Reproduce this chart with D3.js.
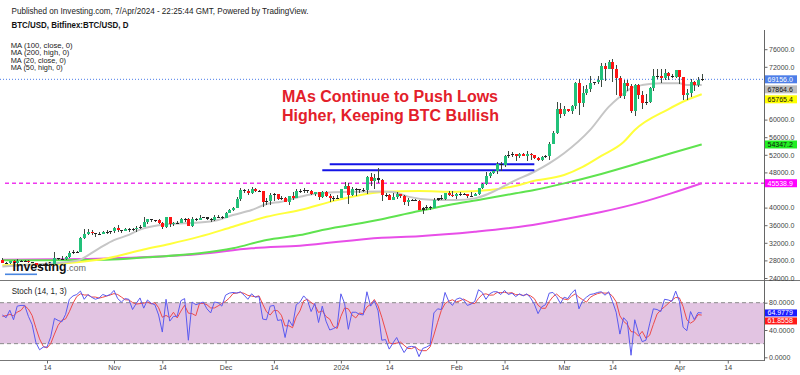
<!DOCTYPE html>
<html>
<head>
<meta charset="utf-8">
<script src="https://cdn.jsdelivr.net/npm/d3@7"></script>
<style>
  body { margin: 0; background: #fff; }
  svg { display: block; }
  text { font-family: "Liberation Sans", Arial, sans-serif; }
</style>
</head>
<body>
<svg id="chart" width="800" height="375"></svg>
<script>
const utc = s => new Date(s + "T00:00:00Z");

// daily candles, 2023-10-02 .. 2024-04-07
const firstDay = "2023-10-02";
const lastDay = "2024-04-07";

const opens = [
  27990,27500,27430,27790,27410,27930,27950,27970,27590,27390,26880,26760,26860,26860,27150,28520,28410,28330,28720,29680,29920,30000,33080,33900,34500,34150,33910,34090,34540,34500,
  34660,35440,34940,34730,35080,35050,35040,35430,35640,36700,37320,37140,37070,36500,35550,37880,36160,36600,36580,37390,37470,35810,37420,37290,37720,37800,37460,37240,37830,37860,
  37720,38690,39460,39970,41980,44080,43770,43290,44170,43720,43790,41240,41450,42890,43020,41940,42260,41360,42660,42270,43660,43860,43990,43720,43010,43580,42520,43440,42580,42070,42140,
  42280,44180,44950,42840,44150,44160,43970,43940,46970,46110,46650,46350,42800,42850,41740,42510,43140,42740,41270,41620,41670,41580,39560,39900,40070,39950,41820,42130,42040,43300,42940,
  42570,43080,43200,43010,42600,42700,43100,44350,45300,47150,47770,48300,49950,49700,51800,51920,52150,51650,52130,51780,52260,51850,51300,50750,51580,51730,54500,57050,62500,
  61200,62400,62050,63150,68300,63800,66100,66900,68300,68500,69000,72100,71500,73100,71400,69500,65300,68400,67600,61900,67900,65500,63800,64000,67200,70000,69900,69500,70700,69900,69600,
  71300,69650,65500,65950,68500,67850,68900
];
const highs = [
  28580,27670,27830,28120,28290,28000,28110,27990,27740,27480,26940,27100,26990,27290,30000,28600,28970,28900,30220,30300,30210,33300,35200,35100,34800,34240,34470,34750,34840,34720,
  35580,35980,34950,35260,35380,35280,35900,35980,37970,37520,37400,37240,37430,36770,37950,37930,36740,36850,37530,37750,37650,37850,37630,38420,37880,37830,37580,38400,38400,38150,
  38980,39700,40200,42420,44480,44300,44140,44700,44370,44040,43800,42100,43400,43430,43080,42700,42430,42740,43480,44300,44250,44400,44020,43940,43570,43600,43680,43800,43120,42600,42890,
  44200,45900,45500,44770,44350,44230,44490,47200,47900,47700,49000,46500,43250,43060,43350,43570,43190,42930,42150,41870,41860,41680,40140,40520,40310,42220,42200,42850,43310,43880,43740,
  43300,43450,43380,43120,43530,43400,44400,45600,48200,48170,48600,50300,50380,52000,52820,52570,52200,52400,52500,52970,52380,52000,51550,51700,51950,54900,57500,64000,63700,
  63100,62450,63250,68500,69200,67600,67900,69900,68600,70000,72800,72900,73650,73800,72400,70000,68900,68900,68100,68100,68200,66600,65900,67500,71500,71500,71600,71500,70900,70300,71300,
  71300,69650,66900,69300,68700,69600,70300
];
const lows = [
  27330,27170,27230,27360,27180,27850,27700,27300,27300,26560,26550,26700,26820,26810,27120,28100,28140,28170,28600,29480,29690,29920,32800,33700,33780,33400,33880,33950,34080,34070,
  34120,34370,34120,34580,34550,34760,34530,35120,35550,36360,36750,36770,36350,35100,35360,35700,35890,36200,36400,36780,35750,35650,36900,37250,37600,37150,36740,36900,37600,37500,
  37610,38660,39250,39970,41420,43350,42870,43100,43600,43600,40200,40700,40600,41500,41700,41700,41250,40530,41820,42200,43300,43400,43350,42800,42750,41680,42110,42320,41300,41520,41970,
  42200,44180,40750,42630,42600,43400,43600,43200,45000,44300,45600,41500,42450,41720,41700,42050,42200,40650,40280,41430,41460,39450,38530,39500,39520,39830,41400,41670,41810,42700,42300,
  41900,42580,42900,42250,42300,42600,42800,44330,45250,46840,47700,47700,48380,49300,51330,51600,50650,51200,51700,50650,50850,50950,50550,50580,51300,50900,54450,56700,60400,
  60800,61650,61300,62350,61000,62800,65600,66200,67900,68000,67300,68700,71400,68600,65600,64800,64600,66600,61500,60800,64600,62300,63300,63800,66500,69300,68400,68900,69100,69500,69500,
  68100,64500,64500,65100,66600,67450,68800
];
const closes = [
  27500,27430,27790,27410,27930,27950,27970,27590,27390,26880,26760,26860,26860,27150,28520,28410,28330,28720,29680,29920,30000,33080,33900,34500,34150,33910,34090,34540,34500,34660,
  35440,34940,34730,35080,35050,35040,35430,35640,36700,37320,37140,37070,36500,35550,37880,36160,36600,36580,37390,37470,35810,37420,37290,37720,37800,37460,37240,37830,37860,37720,
  38690,39460,39970,41980,44080,43770,43290,44170,43720,43790,41240,41450,42890,43020,41940,42260,41360,42660,42270,43660,43860,43990,43720,43010,43580,42520,43440,42580,42070,42140,42280,
  44180,44950,42840,44150,44160,43970,43940,46970,46110,46650,46350,42800,42850,41740,42510,43140,42740,41270,41620,41670,41580,39560,39900,40070,39950,41820,42130,42040,43300,42940,42570,
  43080,43200,43010,42600,42700,43100,44350,45300,47150,47770,48300,49950,49700,51800,51920,52150,51650,52130,51780,52260,51850,51300,50750,51580,51730,54500,57050,62500,61200,
  62400,62050,63150,68300,63800,66100,66900,68300,68500,69000,72100,71500,73100,71400,69500,65300,68400,67600,61900,67900,65500,63800,64000,67200,70000,69900,69500,70700,69900,69600,71300,
  69650,65500,65950,68500,67850,68900,69156
];

// Stoch (14, 1, 3): %K and %D, same days as the candles
const stochK = [
  62,58,69,55,75,76,76,60,48,22,11,15,15,30,57,54,52,63,85,90,92,97,85,92,88,85,87,92,90,92,
  98,86,81,86,85,70,79,87,72,84,79,77,62,37,85,53,60,60,83,86,25,81,77,79,81,71,65,81,80,75,
  91,94,95,94,96,91,85,93,88,89,56,55,75,76,54,55,29,55,46,77,81,90,84,67,79,51,75,53,40,42,45,
  93,79,41,66,66,63,62,96,75,83,68,25,26,12,21,29,17,7,15,16,15,1,13,15,18,65,71,70,95,82,76,
  85,87,84,76,78,82,99,95,85,93,96,96,92,98,92,94,89,93,90,93,87,78,64,74,77,94,95,89,79,
  88,86,94,99,71,83,88,92,93,95,96,91,96,82,66,34,58,52,3,55,36,23,25,49,71,70,67,85,84,82,97,
  82,44,39,67,55.2,65.4,64.9779
];
const stochD = [
  60,61,63,60.7,66.3,68.7,75.7,70.7,61.3,43.3,27,16,13.7,20,34,47,54.3,56.3,66.7,79.3,89,93,91.3,91.3,88.3,88.3,86.7,88,89.7,91.3,
  93.3,92,88.3,84.3,84,80.3,78,78.7,79.3,81,78.3,80,72.7,58.7,61.3,58.3,66,57.7,67.7,76.3,64.7,64,61,79,79,77,72.3,72.3,75.3,78.7,
  82,86.7,93.3,94.3,95,93.7,90.7,89.7,88.7,90,77.7,66.7,62,68.7,68.3,61.7,46,46.3,43.3,59.3,68,82.7,85,80.3,76.7,65.7,68.3,59.7,56,45,42.3,
  60,72.3,71,62,57.7,65,63.7,73.7,77.7,84.7,75.3,58.7,39.7,21,19.7,20.7,22.3,17.7,13,12.7,15.3,10.7,9.7,9.7,15.3,32.7,51.3,68.7,78.7,82.3,84.3,
  81,82.7,85.3,82.3,79.3,78.7,86.3,92,93,91,91.3,95,94.7,95.3,94,94.7,91.7,92,90.7,92,90,86,76.3,72,71.7,81.7,88.7,92.7,87.7,
  85.3,84.3,89.3,93,88,84.3,80.7,87.7,91,93.3,94.7,94,94.3,89.7,81.3,60.7,52.7,48,37.7,36.7,31.3,38,28,32.3,48.3,63.3,69.3,74,78.7,83.7,87.7,
  87,74.3,55,50,53.7,62.5,61.8558
];

// moving averages at sample dates
const ma20Close = [
  ["2023-10-02",26600],["2023-10-09",27000],["2023-10-15",27300],["2023-10-19",27600],["2023-10-22",27900],
  ["2023-10-28",30750],["2023-11-01",32600],["2023-11-05",33800],["2023-11-08",35000],["2023-11-13",36000],
  ["2023-11-20",36450],["2023-11-24",36600],["2023-11-29",37200],["2023-12-03",38300],["2023-12-08",39450],
  ["2023-12-12",40800],["2023-12-16",41350],["2023-12-21",42450],["2023-12-26",43250],["2024-01-04",43600],
  ["2024-01-12",43650],["2024-01-15",43550],["2024-01-19",42500],["2024-01-26",41750],["2024-02-01",41700],
  ["2024-02-06",42100],["2024-02-10",43250],["2024-02-17",46250],["2024-02-22",48150],["2024-02-26",50050],
  ["2024-03-01",52350],["2024-03-08",57650],["2024-03-13",62900],["2024-03-16",65200],["2024-03-19",67100],
  ["2024-03-22",67850],["2024-03-27",68250],["2024-04-01",68250],["2024-04-03",67850],["2024-04-07",67864.6]
];
const ma50High = [
  ["2023-10-02",26900],["2023-10-14",27100],["2023-10-22",27600],["2023-10-30",28450],["2023-11-09",30500],
  ["2023-11-16",31750],["2023-11-24",33400],["2023-12-03",35650],["2023-12-12",37900],["2023-12-21",39450],
  ["2023-12-31",41700],["2024-01-13",43600],["2024-01-22",43750],["2024-02-01",43600],["2024-02-10",44000],
  ["2024-02-18",45150],["2024-02-21",45900],["2024-03-01",47400],["2024-03-06",49250],["2024-03-11",51750],
  ["2024-03-17",54900],["2024-03-20",57650],["2024-03-29",62350],["2024-04-03",64450],["2024-04-07",65765.4]
];
const ma100Close = [
  ["2023-10-02",28050],["2023-10-16",28050],["2023-10-30",28150],["2023-11-10",28700],["2023-11-24",29600],
  ["2023-12-03",30750],["2023-12-12",32650],["2023-12-21",33750],["2023-12-27",34900],["2024-01-12",37350],
  ["2024-01-21",39050],["2024-01-30",40600],["2024-02-08",41900],["2024-02-17",43250],["2024-02-22",44000],
  ["2024-03-01",45500],["2024-03-11",47650],["2024-03-22",50350],["2024-03-30",52400],["2024-04-07",54347.2]
];
const ma200High = [
  ["2023-10-02",28150],["2023-10-16",28250],["2023-10-30",28450],["2023-11-24",29450],["2023-12-08",30750],
  ["2023-12-21",31350],["2024-01-12",33150],["2024-01-22",33500],["2024-02-06",34500],["2024-02-20",35850],
  ["2024-03-01",37350],["2024-03-11",39000],["2024-03-22",41250],["2024-03-30",43300],["2024-04-07",45538.9]
];

// hand drawn resistance lines
const drawnLines = [
  { from: "2023-12-29", to: "2024-02-22", value: 49840 },
  { from: "2023-12-27", to: "2024-02-22", value: 48480 }
];

const priceTicks = [24000,28000,32000,36000,40000,44000,48000,52000,56000,60000,64000,68000,72000,76000];
const stochTicks = [0, 40, 80];
const dateTicks = ["2023-10-14","2023-11-01","2023-11-14","2023-12-01","2023-12-14","2024-01-01","2024-01-14",
                   "2024-02-01","2024-02-14","2024-03-01","2024-03-14","2024-04-01","2024-04-14"];
const dateLabels = ["14","Nov","14","Dec","14","2024","14","Feb","14","Mar","14","Apr","14"];
const maLegend = ["MA (100, close, 0)", "MA (200, high, 0)", "MA (20, close, 0)", "MA (50, high, 0)"];

// ---------------------------------------------------------------
const svg = d3.select("#chart");
const axisX = 764;
const green = "#22c17a", red = "#ff1414";

const x = d3.scaleUtc()
  .domain([utc("2023-10-01"), utc("2024-04-23")])
  .range([-1.36, 761.24]);
const y = d3.scaleLinear().domain([24000, 76000]).range([278, 49.2]);
const yS = d3.scaleLinear().domain([0, 80]).range([357.3, 302.7]);

const dates = d3.utcDay.range(utc(firstDay), d3.utcDay.offset(utc(lastDay), 1));
const candles = dates.map((d, i) => ({ date: d, o: opens[i], h: highs[i], l: lows[i], c: closes[i], k: stochK[i], dd: stochD[i] }));

svg.append("defs").append("clipPath").attr("id", "priceClip")
  .append("rect").attr("x", 0).attr("y", 30).attr("width", axisX).attr("height", 250.5);

// header
svg.append("text").attr("x", 11.5).attr("y", 14).attr("font-size", 9.5).attr("fill", "#222")
  .attr("textLength", 297).attr("lengthAdjust", "spacingAndGlyphs")
  .text("Published on Investing.com, 7/Apr/2024 - 22:25:44 GMT, Powered by TradingView.");
svg.append("text").attr("x", 11.5).attr("y", 28).attr("font-size", 9.5).attr("font-weight", "bold").attr("fill", "#111")
  .attr("textLength", 117).attr("lengthAdjust", "spacingAndGlyphs")
  .text("BTC/USD, Bitfinex:BTC/USD, D");
const legendW = [62, 58.6, 55.3, 52];
svg.append("g").selectAll("text").data(maLegend).join("text")
  .attr("x", 10.7).attr("y", (d, i) => 48 + i * 7.35)
  .attr("font-size", 6.6).attr("fill", "#222")
  .attr("textLength", (d, i) => legendW[i]).attr("lengthAdjust", "spacingAndGlyphs")
  .text(d => d);

// ---- stochastic panel
const stochG = svg.append("g");
stochG.append("rect")
  .attr("x", 0).attr("width", axisX)
  .attr("y", yS(80)).attr("height", yS(20) - yS(80))
  .attr("fill", "#e2c4e2");
[80, 20].forEach(v => {
  stochG.append("line")
    .attr("x1", 0).attr("x2", axisX).attr("y1", yS(v)).attr("y2", yS(v))
    .attr("stroke", "#8a8a8a").attr("stroke-dasharray", "4,3");
});
stochG.append("path").datum(candles)
  .attr("fill", "none").attr("stroke", "#ee4a4a").attr("stroke-width", 1)
  .attr("d", d3.line().x(d => x(d.date)).y(d => yS(d.dd)));
stochG.append("path").datum(candles)
  .attr("fill", "none").attr("stroke", "#5a5af0").attr("stroke-width", 1)
  .attr("d", d3.line().x(d => x(d.date)).y(d => yS(d.k)));
svg.append("text").attr("x", 11.7).attr("y", 293.5).attr("font-size", 8.5).attr("fill", "#222")
  .attr("textLength", 55).attr("lengthAdjust", "spacingAndGlyphs").text("Stoch (14, 1, 3)");

// ---- price panel
const priceG = svg.append("g").attr("clip-path", "url(#priceClip)");

priceG.append("line")
  .attr("x1", 5).attr("x2", axisX)
  .attr("y1", y(ma200High[ma200High.length - 1][1])).attr("y2", y(ma200High[ma200High.length - 1][1]))
  .attr("stroke", "#ee38ee").attr("stroke-width", 1.5).attr("stroke-dasharray", "4,3");
priceG.append("line")
  .attr("x1", 0).attr("x2", axisX)
  .attr("y1", y(closes[closes.length - 1])).attr("y2", y(closes[closes.length - 1]))
  .attr("stroke", "#4a7be8").attr("stroke-width", 1).attr("stroke-dasharray", "1,2");

const maLine = d3.line().curve(d3.curveMonotoneX).x(d => x(utc(d[0]))).y(d => y(d[1]));
[
  [ma200High, "#e84ee8"],
  [ma100Close, "#5fe34f"],
  [ma50High, "#ffff3c"],
  [ma20Close, "#c6c6c6"]
].forEach(([data, color]) => {
  priceG.append("path").datum(data)
    .attr("fill", "none").attr("stroke", color).attr("stroke-width", 2)
    .attr("d", maLine);
});

priceG.selectAll("line.drawn").data(drawnLines).join("line")
  .attr("class", "drawn")
  .attr("x1", d => x(utc(d.from))).attr("x2", d => x(utc(d.to)))
  .attr("y1", d => y(d.value)).attr("y2", d => y(d.value))
  .attr("stroke", "#1414e6").attr("stroke-width", 2);

const cg = priceG.append("g").attr("shape-rendering", "crispEdges");
cg.selectAll("line").data(candles).join("line")
  .attr("x1", d => Math.round(x(d.date)) + 0.5).attr("x2", d => Math.round(x(d.date)) + 0.5)
  .attr("y1", d => y(d.h)).attr("y2", d => y(d.l))
  .attr("stroke", "#3c4a40").attr("stroke-width", 1);
cg.selectAll("rect").data(candles).join("rect")
  .attr("x", d => Math.round(x(d.date)) - 1)
  .attr("width", 3)
  .attr("y", d => Math.round(y(Math.max(d.o, d.c))))
  .attr("height", d => Math.max(1, Math.round(y(Math.min(d.o, d.c))) - Math.round(y(Math.max(d.o, d.c)))))
  .attr("fill", d => {
    if (Math.abs(y(d.o) - y(d.c)) < 1.5) return "#222";
    return d.c >= d.o ? green : red;
  });

// title
const title = svg.append("text").attr("font-size", 16).attr("font-weight", "bold").attr("fill", "#e3202a");
title.append("tspan").attr("x", 282).attr("y", 101.5).text("MAs Continue to Push Lows");
title.append("tspan").attr("x", 282).attr("y", 121).text("Higher, Keeping BTC Bullish");

// logo
const logo = svg.append("g");
logo.append("text").attr("x", 12.5).attr("y", 270.5).attr("font-size", 12.5).attr("font-weight", "bold")
  .attr("fill", "#111").attr("textLength", 54).attr("lengthAdjust", "spacingAndGlyphs").text("Investing");
logo.append("text").attr("x", 66.5).attr("y", 270.5).attr("font-size", 9.5)
  .attr("fill", "#666").attr("textLength", 19.5).attr("lengthAdjust", "spacingAndGlyphs").text(".com");
logo.append("rect").attr("x", 5).attr("y", 273.5).attr("width", 32).attr("height", 1.6).attr("fill", "#4a86e0");

// ---- value boxes layout (right axis)
function layoutBoxes(items, h, gap) {
  let prevBottom = -Infinity;
  items.forEach(it => {
    it.top = Math.max(it.y - h / 2, prevBottom + gap);
    it.h = h;
    prevBottom = it.top + h;
  });
  return items;
}
const fmt1 = d3.format(".1f"), fmt4 = d3.format(".4f");
const lastClose = closes[closes.length - 1];
const lastOf = arr => arr[arr.length - 1][1];
const priceBoxes = [
  ...layoutBoxes([
    { y: y(lastClose), label: fmt1(lastClose), bg: "#4d7ee8", fg: "#fff" },
    { y: y(lastOf(ma20Close)), label: fmt1(lastOf(ma20Close)), bg: "#bdbdbd", fg: "#111" },
    { y: y(lastOf(ma50High)), label: fmt1(lastOf(ma50High)), bg: "#ffff00", fg: "#111" }
  ], 8, 2),
  ...layoutBoxes([{ y: y(lastOf(ma100Close)), label: fmt1(lastOf(ma100Close)), bg: "#22ee22", fg: "#111" }], 8, 2),
  ...layoutBoxes([{ y: y(lastOf(ma200High)), label: fmt1(lastOf(ma200High)), bg: "#ff00ff", fg: "#fff" }], 8, 2)
];
const stochBoxes = layoutBoxes([
  { y: yS(stochK[stochK.length - 1]), label: fmt4(stochK[stochK.length - 1]), bg: "#1a1aff", fg: "#fff" },
  { y: yS(stochD[stochD.length - 1]), label: fmt4(stochD[stochD.length - 1]), bg: "#ff1a1a", fg: "#fff" }
], 7, 1);
const allBoxes = priceBoxes.concat(stochBoxes);
// a tick label sitting under a value box is covered, as on the original
const hiddenByBox = ty => allBoxes.some(b => ty > b.top - 2.5 && ty < b.top + b.h + 3.5);

// ---- frame & axes
svg.append("line").attr("x1", 0).attr("x2", 800).attr("y1", 280.5).attr("y2", 280.5).attr("stroke", "#777");
svg.append("line").attr("x1", 0).attr("x2", axisX).attr("y1", 360.5).attr("y2", 360.5).attr("stroke", "#777");
svg.append("line").attr("x1", axisX + 0.5).attr("x2", axisX + 0.5).attr("y1", 30).attr("y2", 361).attr("stroke", "#666");

function styleAxis(g) {
  g.select(".domain").remove();
  g.selectAll(".tick line").attr("stroke", "#666");
  g.selectAll(".tick text").attr("font-size", 7).attr("fill", "#444")
    .attr("font-family", "'Liberation Sans', Arial, sans-serif");
}

svg.append("g").attr("transform", `translate(${axisX + 0.5},0)`)
  .call(d3.axisRight(y).tickValues(priceTicks.filter(v => !hiddenByBox(y(v))))
    .tickFormat(d3.format(".1f")).tickSize(3).tickPadding(1.5))
  .call(styleAxis);
svg.append("g").attr("transform", `translate(${axisX + 0.5},0)`)
  .call(d3.axisRight(yS).tickValues(stochTicks.filter(v => !hiddenByBox(yS(v))))
    .tickFormat(d3.format(".4f")).tickSize(3).tickPadding(1.5))
  .call(styleAxis);
svg.append("g").attr("transform", "translate(0,360.5)")
  .call(d3.axisBottom(x).tickValues(dateTicks.map(utc)).tickFormat((d, i) => dateLabels[i]).tickSize(3).tickPadding(2))
  .call(styleAxis);

// draw the value boxes
allBoxes.forEach(b => {
  svg.append("rect").attr("x", axisX + 1).attr("y", b.top).attr("width", 32).attr("height", b.h).attr("fill", b.bg);
  svg.append("text").attr("x", axisX + 3.5).attr("y", b.top + b.h / 2 + 2.5)
    .attr("font-size", 7).attr("fill", b.fg).text(b.label);
});
</script>
</body>
</html>
